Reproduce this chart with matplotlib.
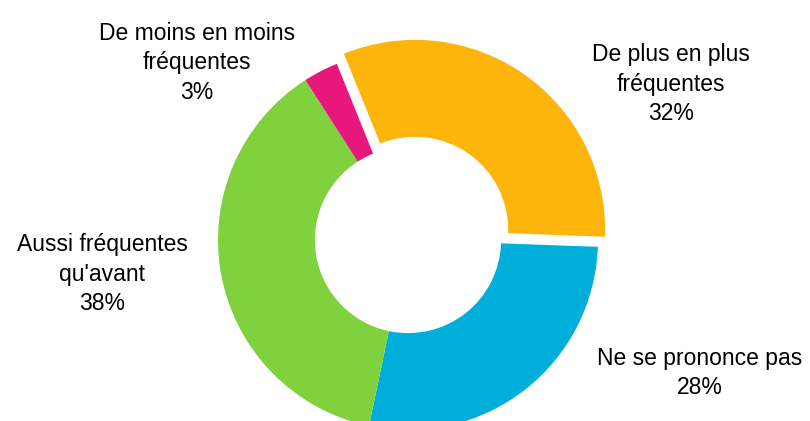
import matplotlib.pyplot as plt

plt.rcParams['font.family'] = ['Liberation Sans Narrow', 'Liberation Sans', 'DejaVu Sans']

# donnees
categories = ["De plus en plus\nfréquentes", "Ne se prononce pas", "Aussi fréquentes\nqu'avant",
              "De moins en moins\nfréquentes"]
valeurs = [32, 28, 38, 3]
couleurs = ["#FDB50C", "#00AEDA", "#80D13E", "#E8177C"]
ecart = [0.065, 0, 0, 0]

# position des etiquettes (en pixels de l'image)
pos_etiquettes = [(671, 84), (700, 373), (102, 274), (197, 63)]

W, H = 810, 421
cx, cy, R = 408, 240, 190   # centre et rayon du donut en pixels

fig = plt.figure(figsize=(W / 100, H / 100), dpi=100)
ax = fig.add_axes([0, 0, 1, 1])

ax.pie(valeurs, colors=couleurs, explode=ecart, startangle=112, counterclock=False,
       radius=1, wedgeprops=dict(width=0.51, linewidth=0))

for cat, v, (px, py) in zip(categories, valeurs, pos_etiquettes):
    ax.text((px - cx) / R, (cy - py) / R, f"{cat}\n{v}%", ha="center", va="center",
            fontsize=16.5, linespacing=1.35, color="black")

ax.set_xlim(-cx / R, (W - cx) / R)
ax.set_ylim(-(H - cy) / R, cy / R)
ax.set_aspect("equal", adjustable="datalim")
ax.axis("off")

fig.savefig("out.png", dpi=100)
